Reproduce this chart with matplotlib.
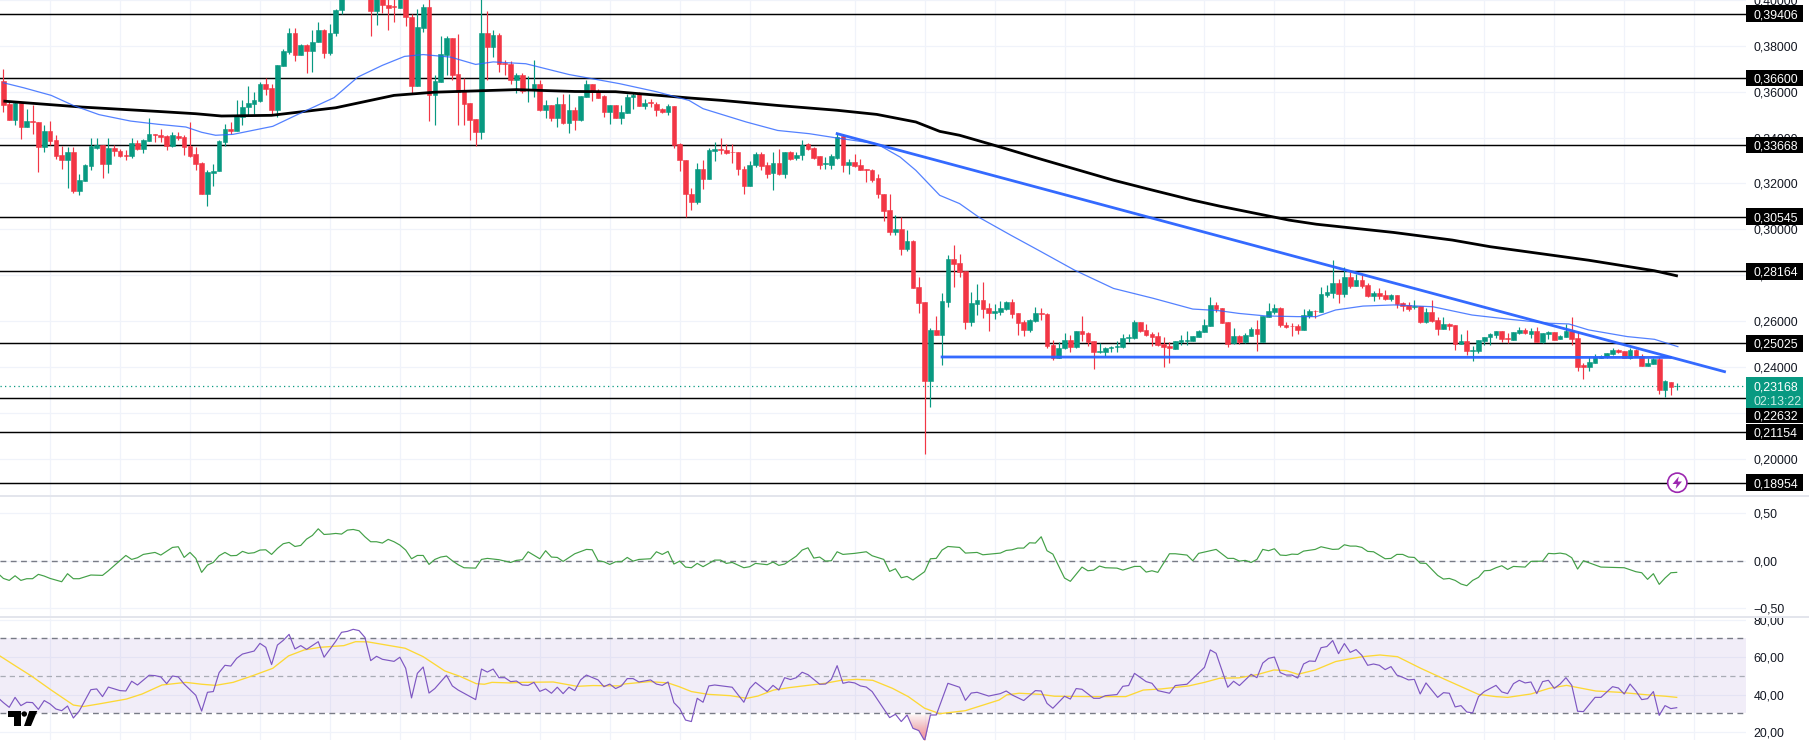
import numpy as np
import matplotlib
matplotlib.use("Agg")
import matplotlib.pyplot as plt
from matplotlib.patches import Rectangle, Circle, Polygon
from matplotlib.lines import Line2D
from matplotlib.transforms import IdentityTransform, Bbox, TransformedBbox

# ---- data: candles, prices in units of 0.0001 -------------------------------
opens = [
3645,3545,3478,3551,3446,3471,3466,3359,3427,3388,
3323,3302,3336,3166,3210,3276,3353,3368,3285,3356,
3343,3323,3318,3378,3349,3384,3414,3413,3405,3363,
3408,3401,3362,3327,3289,3154,3244,3253,3379,3439,
3429,3490,3533,3546,3559,3635,3614,3519,3712,3773,
3858,3758,3802,3777,3816,3867,3768,3857,3957,4035,
4070,4120,4085,4060,3950,4030,3980,3972,3964,4030,
3928,3627,3879,3968,3584,3642,3761,3834,3678,3603,
3551,3479,3423,3855,3797,3849,3725,3719,3649,3671,
3607,3606,3632,3519,3543,3485,3545,3463,3521,3475,
3577,3632,3603,3580,3511,3540,3485,3507,3575,3590,
3537,3555,3548,3523,3510,3536,3371,3304,3156,3119,
3265,3218,3342,3352,3347,3339,3337,3265,3189,3279,
3327,3279,3246,3288,3240,3336,3310,3323,3370,3353,
3318,3286,3282,3312,3405,3279,3292,3279,3262,3257,
3223,3156,3083,2986,3003,2913,2948,2748,2683,2340,
2561,2539,2684,2870,2853,2816,2597,2674,2691,2657,
2636,2639,2652,2683,2635,2596,2561,2600,2635,2630,
2496,2437,2480,2517,2487,2556,2548,2513,2464,2465,
2480,2488,2487,2527,2526,2597,2561,2543,2535,2500,
2491,2478,2510,2514,2514,2530,2553,2580,2670,2655,
2596,2503,2533,2507,2536,2567,2509,2619,2641,2657,
2584,2580,2578,2561,2622,2645,2641,2715,2722,2765,
2718,2792,2752,2777,2757,2707,2722,2713,2696,2713,
2678,2668,2661,2664,2594,2639,2604,2565,2587,2583,
2500,2511,2469,2469,2513,2529,2539,2555,2526,2517,
2548,2561,2545,2556,2507,2545,2552,2523,2532,2556,
2526,2407,2398,2418,2440,2442,2458,2474,2468,2439,
2474,2448,2405,2414,2432,2300,2334,2315]
closes = [
3540,3478,3551,3446,3471,3468,3359,3427,3384,3320,
3302,3336,3166,3214,3279,3363,3368,3285,3356,3340,
3320,3320,3378,3349,3388,3414,3410,3402,3363,3410,
3398,3359,3321,3285,3154,3249,3256,3384,3439,3429,
3494,3535,3549,3562,3635,3613,3519,3715,3776,3858,
3758,3802,3777,3818,3867,3768,3858,3958,4035,4070,
4120,4085,4060,3950,4030,3979,3967,3969,4030,3925,
3627,3884,3968,3584,3645,3765,3834,3675,3598,3545,
3475,3423,3855,3797,3849,3719,3720,3649,3671,3603,
3610,3632,3519,3543,3485,3545,3463,3521,3475,3580,
3632,3598,3574,3511,3540,3485,3511,3575,3585,3537,
3552,3550,3519,3510,3536,3366,3301,3153,3119,3265,
3218,3344,3352,3344,3334,3337,3262,3189,3282,3327,
3276,3240,3288,3240,3336,3308,3326,3369,3349,3313,
3279,3289,3318,3402,3279,3294,3275,3259,3260,3217,
3153,3080,2986,3003,2913,2948,2744,2680,2340,2561,
2539,2687,2870,2850,2815,2597,2677,2691,2652,2636,
2644,2657,2683,2632,2593,2561,2604,2633,2630,2493,
2437,2481,2517,2487,2556,2543,2510,2465,2468,2481,
2485,2492,2525,2530,2597,2558,2539,2532,2495,2488,
2480,2511,2516,2517,2535,2555,2583,2670,2652,2593,
2500,2533,2507,2539,2567,2543,2622,2645,2657,2581,
2575,2578,2561,2626,2644,2644,2718,2725,2765,2718,
2792,2752,2777,2754,2709,2723,2709,2694,2713,2674,
2664,2651,2664,2596,2639,2600,2565,2587,2580,2500,
2511,2469,2472,2516,2530,2543,2555,2522,2522,2552,
2559,2549,2556,2510,2548,2552,2519,2536,2556,2523,
2401,2401,2421,2442,2448,2462,2474,2465,2440,2474,
2445,2405,2418,2432,2300,2337,2314,2317]
highs = [
3697,3555,3555,3555,3526,3540,3466,3453,3471,3410,
3362,3359,3359,3243,3286,3400,3400,3368,3400,3369,
3352,3344,3400,3388,3395,3485,3417,3439,3410,3424,
3424,3410,3468,3359,3294,3257,3286,3391,3458,3468,
3562,3562,3627,3598,3642,3661,3635,3715,3787,3877,
3877,3809,3809,3867,3903,3874,3896,3961,4060,4100,
4150,4140,4110,4090,4060,4050,4010,4005,4050,4050,
3937,3961,3983,4010,3671,3845,3845,3834,3852,3661,
3551,3479,4010,3950,3871,3857,3739,3736,3683,3683,
3667,3739,3649,3562,3543,3577,3591,3591,3533,3580,
3649,3632,3613,3584,3540,3540,3540,3590,3600,3600,
3570,3570,3555,3530,3545,3536,3376,3304,3178,3291,
3304,3356,3381,3398,3373,3373,3337,3276,3297,3337,
3337,3294,3337,3352,3336,3340,3337,3391,3376,3359,
3318,3315,3330,3421,3417,3308,3330,3308,3265,3265,
3240,3156,3153,3064,3054,2996,2953,2793,2683,2568,
2622,2723,2887,2931,2892,2816,2728,2761,2768,2677,
2673,2687,2687,2694,2635,2604,2608,2660,2655,2633,
2517,2510,2546,2539,2556,2622,2553,2513,2503,2488,
2491,2514,2542,2542,2604,2597,2587,2550,2550,2529,
2510,2511,2539,2556,2535,2561,2607,2706,2684,2655,
2596,2568,2539,2546,2575,2604,2622,2677,2674,2660,
2597,2590,2587,2651,2651,2648,2749,2757,2868,2781,
2834,2815,2807,2800,2764,2732,2742,2735,2717,2713,
2684,2684,2691,2665,2655,2691,2619,2616,2593,2583,
2543,2561,2491,2517,2532,2546,2556,2556,2546,2554,
2572,2568,2568,2575,2548,2558,2554,2539,2587,2617,
2553,2416,2445,2455,2452,2462,2484,2477,2471,2481,
2477,2455,2437,2437,2442,2343,2336,2329]
lows = [
3511,3475,3453,3395,3446,3417,3250,3337,3366,3308,
3265,3178,3160,3149,3210,3257,3352,3224,3246,3318,
3315,3304,3312,3344,3333,3384,3381,3381,3347,3359,
3388,3323,3315,3257,3153,3102,3188,3253,3362,3417,
3429,3453,3497,3504,3555,3584,3497,3490,3712,3765,
3736,3758,3681,3686,3816,3748,3758,3842,3940,4020,
4050,4060,4010,3842,3890,3943,3871,3903,3964,3886,
3594,3627,3860,3472,3453,3642,3671,3649,3453,3453,
3388,3363,3392,3652,3751,3685,3675,3635,3596,3596,
3555,3577,3516,3487,3472,3446,3458,3420,3432,3472,
3577,3559,3574,3490,3458,3485,3458,3507,3526,3537,
3526,3533,3494,3507,3500,3355,3254,3054,3083,3109,
3175,3218,3298,3330,3330,3289,3236,3153,3189,3272,
3257,3225,3170,3235,3224,3301,3301,3301,3344,3308,
3262,3265,3265,3308,3250,3240,3272,3257,3207,3207,
3137,3037,2974,2977,2887,2906,2744,2633,2021,2227,
2539,2408,2662,2749,2793,2565,2578,2626,2612,2556,
2607,2626,2648,2612,2539,2535,2554,2597,2604,2481,
2430,2437,2477,2466,2481,2514,2491,2392,2459,2448,
2465,2466,2481,2510,2522,2553,2535,2493,2493,2401,
2416,2477,2496,2496,2514,2529,2553,2580,2641,2590,
2488,2500,2500,2503,2535,2471,2507,2616,2630,2575,
2568,2535,2543,2561,2612,2612,2641,2703,2699,2680,
2703,2742,2752,2742,2706,2688,2694,2691,2688,2655,
2645,2645,2654,2590,2590,2597,2539,2564,2561,2474,
2500,2452,2427,2462,2495,2495,2525,2507,2506,2517,
2543,2543,2527,2507,2503,2520,2517,2520,2529,2495,
2384,2349,2384,2416,2437,2439,2452,2462,2439,2436,
2442,2404,2404,2413,2282,2270,2278,2297]

# moving averages of price (bar, price*1e4)
ma200_bar = [0,13.5,26.5,33,37.4,46,57,67,74,88,98,105,118,123.3,132.8,143,149.8,156.5,160.6,164,170,178.2,190.4,197.2,204,208.6,220.5,225.2,238.5,248.5,255,271.9,283.2,287.2]
ma200_val = [3559,3533,3514,3504,3494,3497,3530,3584,3598,3609,3601,3600,3572,3562,3540,3519,3501,3468,3427,3410,3366,3304,3214,3170,3127,3101,3040,3022,2986,2953,2924,2865,2819,2796]
ma50_bar = [0,3.5,8.2,12,16.4,21.8,26.5,31.3,34,36.4,39.4,46.2,51,56.7,60.8,65,68.8,72,76.7,81,84,89.6,97,105.7,112,117.6,120,127.4,132.8,138.2,143,149.8,153.8,156.5,160.6,164,167.4,172.8,177.5,183.7,190.4,197.2,204,206.7,208.5,211.9,216.5,221.9,225.2,228.5,233.2,238.5,245.2,251.9,258.5,265.2,268.5,271.9,278.5,283.2,287.2]
ma50_val = [3639,3617,3584,3540,3500,3472,3458,3446,3423,3410,3414,3449,3507,3574,3664,3715,3754,3762,3751,3719,3730,3722,3675,3635,3600,3562,3526,3468,3431,3417,3398,3373,3315,3257,3148,3112,3051,2974,2909,2822,2742,2699,2652,2648,2645,2633,2622,2619,2619,2648,2665,2670,2662,2626,2607,2590,2587,2561,2532,2520,2488]

# drawn trend lines (bar, price*1e4)
trend_down_bar = [143, 295.2]
trend_down_val = [3417, 2379]
trend_flat_bar = [161, 285.9]
trend_flat_val = [2443, 2441]

levels = [0.39406,0.36600,0.33668,0.30545,0.28164,0.25025,0.22632,0.21154,0.18954]
level_label_pos = [0.39406,0.36600,0.33668,0.30545,0.28164,0.25025,0.21895,0.21154,0.18954]
last_price = 0.23168
countdown = "02:13:22"
price_ticks = [0.20,0.22,0.24,0.26,0.28,0.30,0.32,0.34,0.36,0.38,0.40]
cmf_ticks = [-0.5,0.0,0.5]
rsi_ticks = [20,40,60,80]
grid_bars = [8,20,32,44,56,68,80,92,104,116,128,146,158,170,182,194,206,218,230,242,254,266,278,290]

# Chaikin-style oscillator
cmf_bar = [-1,0,1,2,3,4,5,6,7,8,10,11,12,13,15,17,18,21,22,23,24,26,27,29,30,31,32,33,34,35,36,37,38,39,40,41,42,43,44,45,46,47,48,49,50,51,52,53,54,55,56,57,58,59,60,61,62,63,64,65,66,67,68,69,70,71,72,73,74,75,76,77,78,79,81,82,83,85,87,88,89,90,92,93,94,95,96,98,100,101,102,103,104,105,
106,107,108,109,111,112,113,114,115,116,117,118,119,120,122,123,124,125,127,128,129,131,132,133,134,136,137,138,139,140,141,142,143,144,146,148,149,151,152,153,154,155,156,158,159,160,161,162,164,165,167,168,171,172,173,174,175,176,177,178,179,180,182,183,185,186,187,188,189,191,192,194,195,196,197,198,200,201,203,204,205,208,
210,211,212,213,214,215,216,217,218,219,220,221,222,223,225,226,228,229,230,231,232,233,234,235,237,238,239,240,241,242,243,244,246,247,248,249,250,251,252,253,254,255,256,257,258,259,261,262,264,265,266,267,268,269,270,271,274,278,280,281,282,283,284,285,286,287]
cmf_val = [-0.13,-0.187,-0.208,-0.159,-0.208,-0.190,-0.190,-0.144,-0.162,-0.187,-0.222,-0.137,-0.190,-0.190,-0.151,-0.155,-0.106,0.056,0.014,0.032,0.067,0.088,0.060,0.141,0.148,0.035,0.088,0.025,-0.123,-0.046,-0.018,0.053,0.088,0.053,0.056,0.099,0.078,0.085,0.113,0.116,0.067,0.130,0.180,0.194,0.151,0.162,0.229,0.268,0.338,0.278,0.282,0.289,0.282,0.324,0.331,0.317,0.254,0.201,0.201,0.187,0.226,0.201,0.166,0.113,0.021,0.056,0.056,-0.039,0.014,0.039,0.049,0.0,-0.042,-0.074,-0.078,0.014,0.025,0.011,-0.018,0.004,0.011,0.095,0.021,0.106,0.039,0.035,-0.007,0.074,0.120,0.116,0.0,-0.011,-0.039,-0.011,
-0.011,0.035,-0.004,0.014,0.021,0.095,0.067,0.099,-0.035,-0.004,-0.067,-0.074,-0.028,-0.063,0.007,0.007,-0.028,-0.018,-0.074,-0.063,-0.028,-0.042,-0.014,-0.049,-0.035,0.049,0.113,0.137,0.028,0.039,-0.004,0.0,0.095,0.067,0.078,0.095,0.053,0.014,-0.113,-0.085,-0.180,-0.166,-0.204,-0.116,0.021,0.025,0.113,0.151,0.141,0.081,0.088,0.063,0.081,0.109,0.116,0.134,0.134,0.190,0.187,0.254,0.106,0.070,-0.183,-0.218,-0.067,-0.106,-0.099,-0.056,-0.074,-0.078,-0.099,-0.060,-0.060,-0.120,-0.106,-0.123,0.074,0.074,0.060,0.0,0.078,0.120,
0.025,0.025,-0.004,0.004,-0.018,0.014,0.120,0.106,0.127,0.060,0.056,0.070,0.067,0.102,0.120,0.148,0.120,0.123,0.169,0.155,0.155,0.141,0.099,0.095,0.021,0.025,0.067,0.067,0.039,0.035,-0.025,-0.028,-0.155,-0.194,-0.187,-0.208,-0.246,-0.264,-0.208,-0.176,-0.106,-0.102,-0.074,-0.053,-0.092,-0.060,-0.067,-0.007,-0.004,0.078,0.074,0.081,0.070,0.032,-0.088,0.0,-0.067,-0.074,-0.116,-0.127,-0.197,-0.137,-0.250,-0.183,-0.127,-0.123]

# RSI and its moving average
rsi_bar = [-1,0,1,2,3,4,5,6,7,8,9,10,11,12,13,15,16,17,18,20,21,22,23,25,26,27,28,29,30,31,33,34,35,36,37,38,39,40,41,43,44,45,46,47,48,49,50,51,52,54,55,57,58,59,60,61,62,63,64,65,67,68,69,70,71,72,73,74,76,77,78,81,82,83,84,85,86,87,88,89,90,91,92,93,94,95,96,97,98,99,100,102,103,104,105,
106,107,108,109,111,112,113,114,115,116,117,118,119,120,121,122,125,127,128,129,131,132,133,134,135,136,137,138,140,141,142,143,144,145,146,147,148,149,152,153,154,155,156,157,158,159,160,162,164,165,166,167,169,171,172,173,175,177,178,179,180,182,183,184,185,187,188,189,191,192,193,194,196,197,198,200,201,203,206,207,208,
210,211,212,214,215,216,217,218,219,220,221,222,223,224,225,226,227,228,229,230,231,232,233,234,235,236,237,238,239,240,241,242,243,244,246,247,248,249,250,251,252,253,254,256,257,258,259,260,261,262,263,264,265,266,267,268,269,270,271,273,274,276,277,278,279,280,281,282,283,284,285,286,287]
rsi_val = [38.5,35.7,33.2,38.5,34.1,35.9,35.7,32.1,36.8,35.0,32.3,31.4,33.9,27.5,31.2,42.6,43.0,38.9,44.0,42.1,41.9,47.1,45.1,50.3,50.1,49.4,45.8,49.9,49.4,45.6,39.6,31.2,41.2,41.6,51.7,55.6,55.2,59.3,61.6,63.2,67.3,65.2,56.0,66.4,68.9,72.1,64.3,66.1,64.1,68.2,59.9,68.4,73.2,73.7,74.8,74.1,70.5,58.1,60.4,58.8,57.7,59.9,54.0,38.2,51.3,54.7,40.8,43.2,50.3,44.6,42.4,37.3,53.6,52.0,53.6,49.0,49.0,46.9,47.2,45.1,44.9,46.5,41.7,43.0,40.7,43.9,40.5,43.9,42.1,47.8,50.4,47.8,44.2,45.6,43.2,
44.6,48.5,48.5,46.7,47.8,45.6,44.9,46.7,35.7,32.5,26.4,25.6,38.0,35.9,44.6,45.1,43.9,35.9,43.2,46.5,41.6,44.9,42.4,49.0,48.0,49.0,51.9,50.6,45.5,45.6,48.1,55.4,46.0,46.7,46.2,44.6,44.0,41.6,27.7,29.5,25.6,29.1,22.0,20.8,15.4,29.1,29.1,46.0,43.9,36.9,40.8,41.2,39.2,40.5,41.9,39.8,36.8,42.1,41.9,35.3,32.7,39.1,37.6,43.2,42.8,38.0,38.0,39.4,40.0,44.4,44.8,51.3,46.9,46.0,42.1,40.7,44.8,45.5,54.5,63.8,62.0,
43.9,47.1,44.8,50.8,49.0,56.8,59.3,60.0,51.7,50.4,50.4,48.8,56.3,57.9,57.7,65.0,65.6,68.8,61.8,67.2,62.5,64.0,60.9,55.6,56.3,55.6,53.3,54.9,50.4,49.2,47.8,48.1,40.3,46.2,38.5,41.0,40.7,33.4,34.1,30.7,30.2,38.9,41.6,44.9,41.4,40.5,45.8,47.6,46.2,46.7,40.5,46.9,47.6,43.3,45.6,49.0,44.9,31.1,30.9,38.5,38.5,44.2,43.5,40.3,45.6,41.9,37.3,37.8,41.6,28.9,34.1,32.5,33.0]
rsi_ma_bar = [-0.6,2.1,4.8,8.2,12,13.7,16.4,21.1,23.8,27.2,31.3,34,36.4,39.4,42.8,46.2,48.9,51.6,54.3,58.4,60.4,62.5,68.9,72,75.7,78.4,81.1,82.5,83.8,86.9,88.9,94.3,98.4,101.1,105.7,106.4,110.8,114,115.9,118,120.9,124.7,127.5,129.4,132.1,134.8,140.9,143.7,146.4,149.1,152.5,155.2,158,160.6,165,170.8,172.1,174.2,177.9,180.3,187,192.5,195.5,198.6,203.3,206,208.6,211.9,215,217.9,220,222,225,228.5,230.5,233.1,236.1,239.1,243.1,247.1,253,256,258,262,265.1,268.1,273.1,277.2,282.1,285.1,287]
rsi_ma_val = [60.6,55.2,49.9,42.4,34.4,33.6,35.0,37.6,40.3,45.1,46.5,45.5,44.9,46.5,50.1,54.0,60.6,63.8,65.2,66.1,68.2,68.1,64.7,60.2,52.6,49.6,45.8,45.5,46.5,46.2,46.5,46.7,44.4,44.8,44.6,45.6,46.9,46.2,44.2,41.6,40.1,39.4,38.0,39.2,42.4,43.7,46.0,47.6,48.1,47.6,43.3,38.9,32.7,29.8,31.4,37.1,39.8,40.7,40.1,39.1,38.9,38.9,42.4,43.0,44.6,46.5,48.7,48.9,50.6,53.1,52.8,50.8,53.1,57.6,58.8,60.2,61.1,60.2,54.0,48.3,40.1,38.9,38.5,40.3,43.3,44.9,41.9,41.2,39.8,39.1,38.5]

# ---- styling ----------------------------------------------------------------
UP, DOWN = "#089981", "#f23645"
GRID = "#f0f3fa"
TEXT = "#131722"
W, H = 1809, 746
CHART_R = 1745.5
FONT = "Liberation Sans"
FS = 8.9
plt.rcParams["font.family"] = [FONT, "DejaVu Sans"]
plt.rcParams["axes.unicode_minus"] = False

fig = plt.figure(figsize=(W/100, H/100), dpi=100, facecolor="white")
def pane(y_top, y_bot):
    return fig.add_axes([0, 1-y_bot/H, CHART_R/W, (y_bot-y_top)/H])
ax = pane(0, 495)
ax2 = pane(496, 616)
ax3 = pane(618, 740)
XLIM = (-0.583, 298.8)
for a in (ax, ax2, ax3):
    a.set_xlim(*XLIM)
    a.set_xticks([])
    for s in a.spines.values():
        s.set_visible(False)
    a.yaxis.tick_right()
    a.tick_params(axis="y", length=0, pad=6.0, labelsize=FS, labelcolor=TEXT)
    a.set_axisbelow(True)
    a.vlines(grid_bars, 0, 1, transform=a.get_xaxis_transform(), color=GRID, lw=0.9, zorder=0.5)
    a.set_facecolor("none")

ax.set_ylim(0.18410, 0.39960)
ax2.set_ylim(-0.5846, 0.685)
ax3.set_ylim(15.76, 80.83)

def fmt(v, d):
    s = f"{abs(v):.{d}f}".replace(".", ",")
    return ("\u2212" + s) if v < 0 else s

def right_clip(a):
    clip = TransformedBbox(Bbox([[0, 0], [W/CHART_R, 1]]), a.transAxes)
    for lab in a.get_yticklabels():
        lab.set_clip_box(clip)
        lab.set_clip_on(True)

ax.set_yticks(price_ticks, [fmt(v, 5) for v in price_ticks])
ax2.set_yticks(cmf_ticks, [fmt(v, 2) for v in cmf_ticks])
ax3.set_yticks(rsi_ticks, [fmt(v, 2) for v in rsi_ticks])
for a in (ax, ax2, ax3):
    a.grid(axis="y", color=GRID, lw=0.9)
    right_clip(a)

# ---- main pane --------------------------------------------------------------
O, C = np.array(opens)/1e4, np.array(closes)/1e4
Hi, Lo = np.array(highs)/1e4, np.array(lows)/1e4
bars = np.arange(len(O))
cols = [UP if c >= o else DOWN for o, c in zip(O, C)]
for lv in levels:
    ax.axhline(lv, color="black", lw=1.05, zorder=1.5)
ax.axhline(last_price, color=UP, lw=0.9, ls=(0, (1, 2.6)), zorder=1.6)
ax.vlines(bars, Lo, Hi, colors=cols, lw=0.85, zorder=2)
ax.bar(bars, np.abs(C-O), bottom=np.minimum(O, C), width=0.8, color=cols,
       edgecolor=cols, linewidth=0.4, zorder=2.1)
ax.plot(np.array(ma200_bar), np.array(ma200_val)/1e4, color="black", lw=2.0, zorder=3, solid_capstyle="butt")
ax.plot(np.array(ma50_bar), np.array(ma50_val)/1e4, color="#2962ff", lw=0.9, alpha=0.8, zorder=3)
ax.plot(trend_down_bar, np.array(trend_down_val)/1e4, color="#2962ff", lw=2.0, alpha=0.95, zorder=3.2)
ax.plot(trend_flat_bar, np.array(trend_flat_val)/1e4, color="#2962ff", lw=2.0, alpha=0.95, zorder=3.2)

# ---- price labels -----------------------------------------------------------
idt = IdentityTransform()
LABEL_X = 1753.5/CHART_R
def box(center_y_disp, h, color, z):
    ax.add_patch(Rectangle((1746, center_y_disp-h/2), 56.5, h, transform=idt, facecolor=color,
                           edgecolor="none", clip_on=False, zorder=z))
for lv, pos in zip(levels, level_label_pos):
    yd = ax.transData.transform((0, pos))[1]
    box(yd, 16.6, "black", 6)
    ax.text(LABEL_X, pos, fmt(lv, 5), transform=ax.get_yaxis_transform(), color="white", fontsize=FS,
            va="center_baseline", ha="left", fontweight="normal", clip_on=False, zorder=7)
yd = ax.transData.transform((0, last_price))[1]
ax.add_patch(Rectangle((1746, yd-22.5), 56.5, 31.8, transform=idt, facecolor=UP, edgecolor="none",
                       clip_on=False, zorder=6.5))
ax.text(LABEL_X, last_price, fmt(last_price, 5), transform=ax.get_yaxis_transform(), color="white",
        fontsize=FS, va="center_baseline", ha="left", clip_on=False, zorder=7)
ax.annotate(countdown, xy=(LABEL_X, last_price), xycoords=ax.get_yaxis_transform(), xytext=(0, -10.2),
            textcoords="offset points", color="#c6ece4", fontsize=FS, va="center_baseline", ha="left",
            annotation_clip=False, zorder=7)

# ---- oscillator pane --------------------------------------------------------
ax2.axhline(0, color="#787b86", lw=1.0, ls=(0, (4.2, 3.2)), zorder=1)
ax2.plot(cmf_bar, cmf_val, color="#43a047", lw=0.85, zorder=3)

# ---- RSI pane ---------------------------------------------------------------
ax3.axhspan(30, 70, color="#7e57c2", alpha=0.1, lw=0, zorder=0.6)
ax3.axhline(70, color="#787b86", lw=1.0, ls=(0, (4.2, 3.2)), zorder=1)
ax3.axhline(50, color="#a9acb5", lw=0.9, ls=(0, (4.2, 3.2)), zorder=1)
ax3.axhline(30, color="#787b86", lw=1.0, ls=(0, (4.2, 3.2)), zorder=1)
fb = np.linspace(rsi_bar[0], rsi_bar[-1], 6000)
fv = np.interp(fb, rsi_bar, rsi_val)
for t in np.arange(30, 15.5, -0.5):
    ax3.fill_between(fb, fv, t, where=(fv < t) & (fb > 154.5) & (fb < 159.5),
                     color="#f23645", alpha=0.022, lw=0, zorder=1.2)
ax3.plot(rsi_ma_bar, rsi_ma_val, color="#fdd835", lw=0.95, zorder=3)
ax3.plot(rsi_bar, rsi_val, color="#7e57c2", lw=0.85, zorder=3.1)

# ---- chrome: pane separators, logo, flash badge -------------------------------
def px(x, y):
    return (x, H-y)
for y in (495.5, 617):
    fig.add_artist(Line2D([0, W], [H-y, H-y], transform=idt, color="#e0e3eb", lw=1.3, zorder=8))

logo = [
    [(8.3, 711), (20.7, 711), (20.7, 726), (14, 726), (14, 716.7), (8.3, 716.7)],
    [(29.3, 711), (37.3, 711), (31, 726), (24, 726)],
]
for pts in logo:
    fig.add_artist(Polygon([px(*p) for p in pts], closed=True, transform=idt, facecolor="black",
                           edgecolor="none", zorder=9))
fig.add_artist(Circle(px(24.3, 714), 2.7, transform=idt, facecolor="black", edgecolor="none", zorder=9))

fig.add_artist(Circle(px(1677.3, 482.7), 9.6, transform=idt, facecolor="white", edgecolor="#9c27b0", lw=1.2, zorder=9))
bolt = [(1678.8, 476.5), (1672.5, 484), (1676.8, 484), (1675.6, 489), (1682, 481.5), (1677.8, 481.5)]
fig.add_artist(Polygon([px(*p) for p in bolt], closed=True, transform=idt, facecolor="#9c27b0",
                       edgecolor="none", zorder=9.1))

fig.savefig("out.png", dpi=100, facecolor="white")
